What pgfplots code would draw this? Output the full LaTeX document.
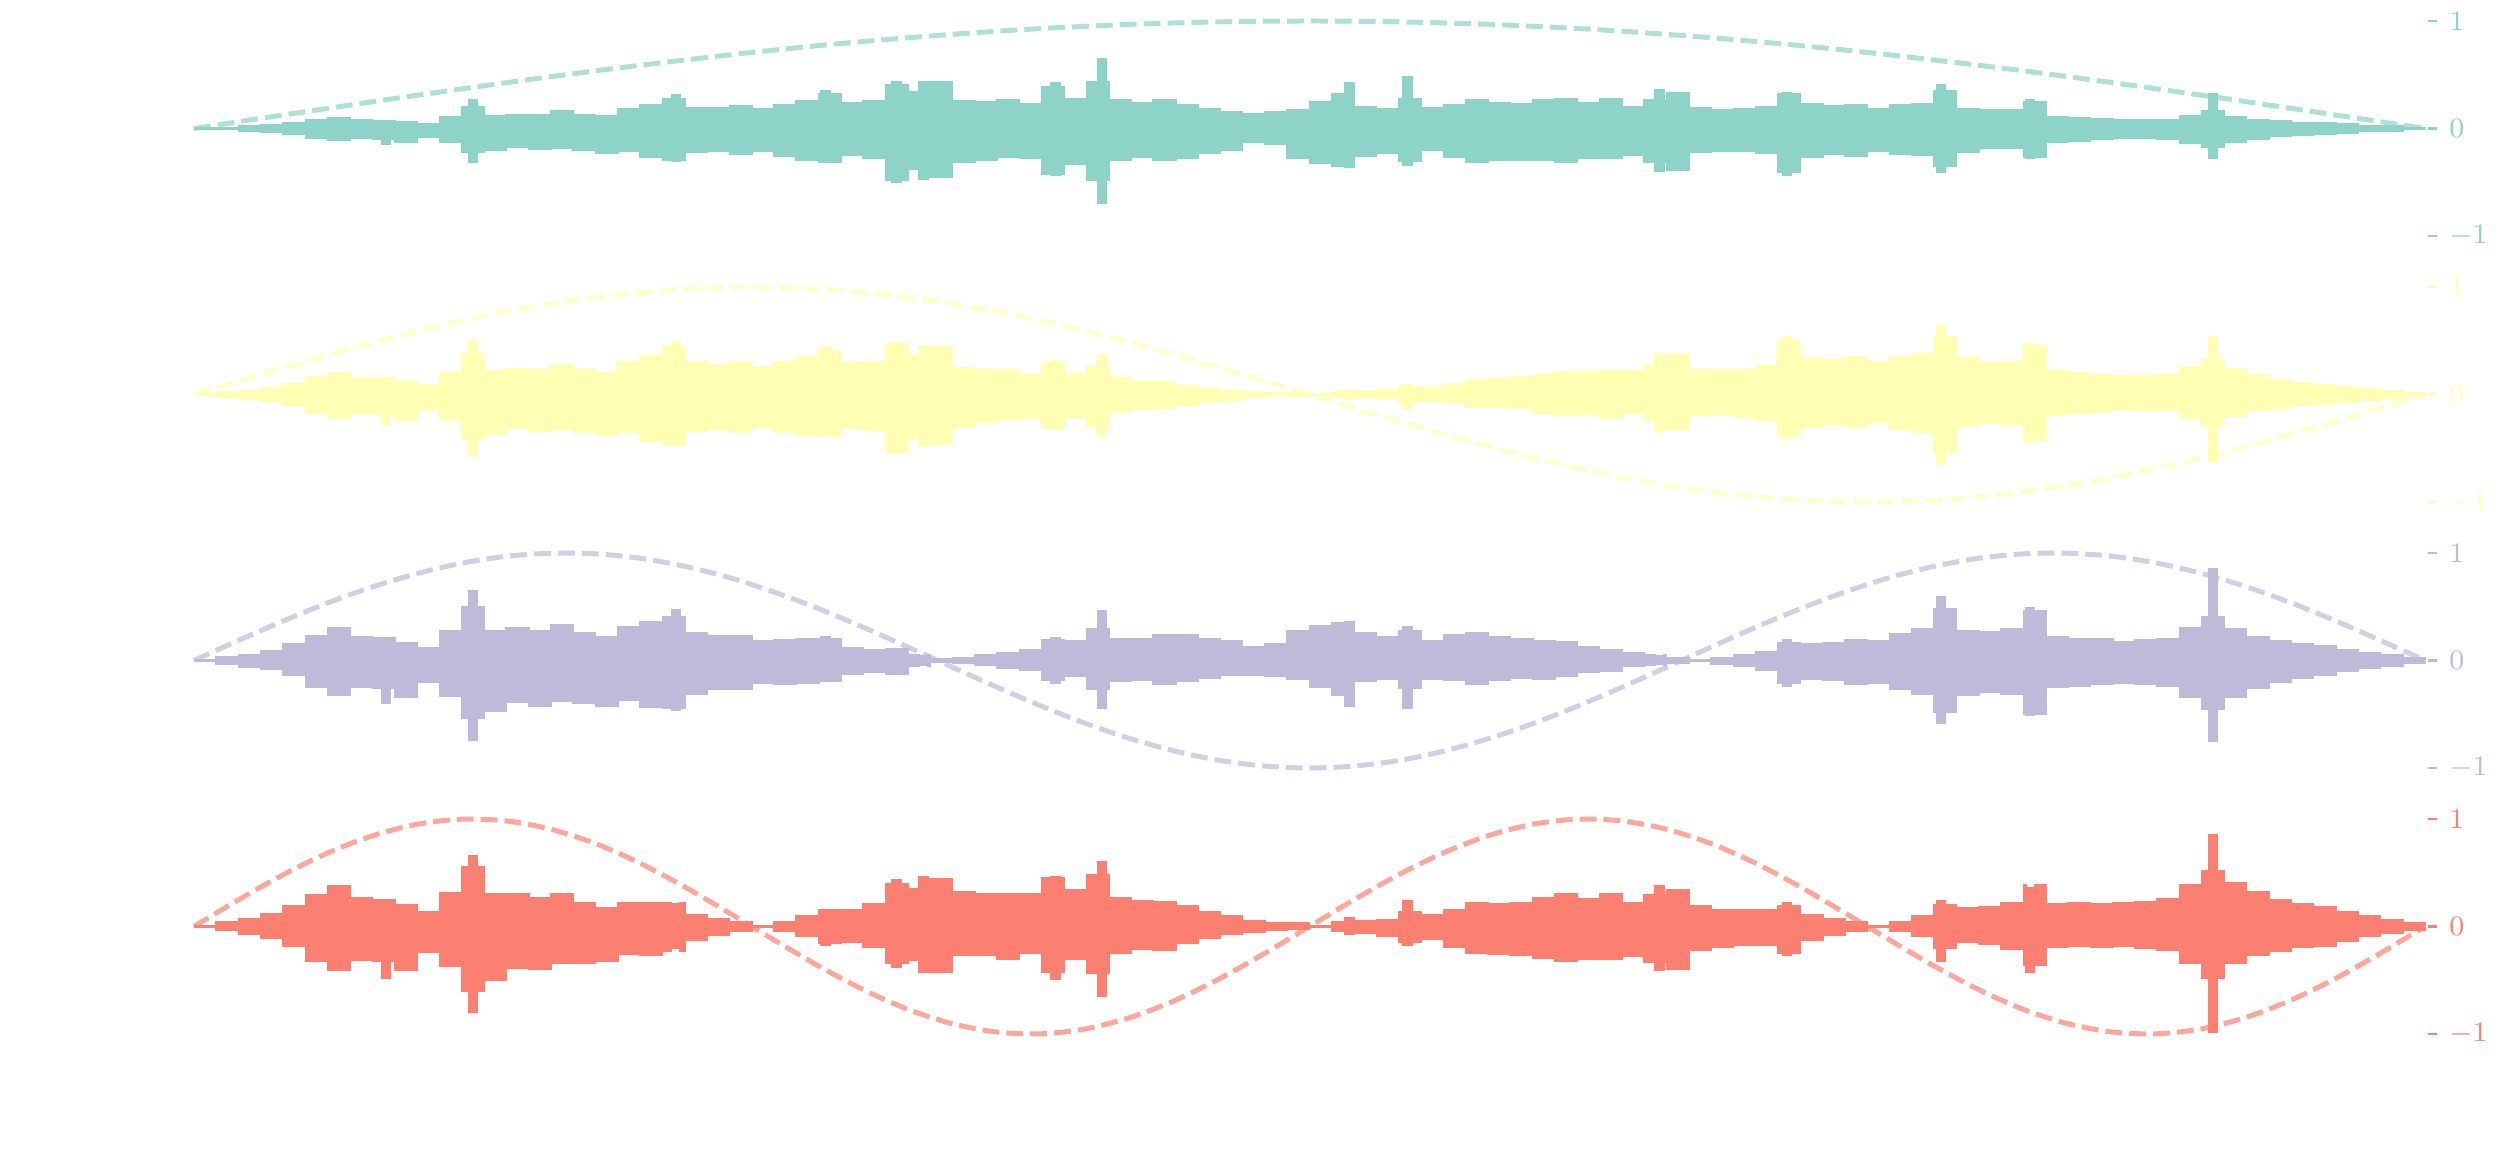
\documentclass[border=0pt]{standalone}
\usepackage{pgfplots}
\pgfplotsset{compat=1.18}
\usepackage{pgfplotstable}
\usepgfplotslibrary{fillbetween}
\definecolor{cA}{HTML}{8DD3C7}
\definecolor{cB}{HTML}{FFFFB3}
\definecolor{cC}{HTML}{BEBADA}
\definecolor{cD}{HTML}{FB8072}

\pgfplotstableread{
x u l
0 0.005 -0.005
0.01 0.01 -0.01
0.02 0.02 -0.02
0.03 0.03 -0.03
0.04 0.05 -0.05
0.05 0.08 -0.09
0.06 0.10 -0.11
0.07 0.08 -0.09
0.08 0.075 -0.095
0.084 0.075 -0.145
0.088 0.075 -0.095
0.09 0.061 -0.13
0.10 0.046 -0.077
0.11 0.11 -0.13
0.12 0.20 -0.22
0.123 0.27 -0.31
0.127 0.20 -0.22
0.13 0.12 -0.20
0.14 0.13 -0.17
0.15 0.13 -0.19
0.16 0.16 -0.18
0.17 0.13 -0.20
0.18 0.12 -0.23
0.19 0.18 -0.21
0.20 0.22 -0.27
0.21 0.28 -0.29
0.214 0.31 -0.30
0.218 0.28 -0.29
0.22 0.19 -0.22
0.23 0.19 -0.21
0.24 0.21 -0.24
0.25 0.18 -0.21
0.26 0.22 -0.26
0.27 0.26 -0.29
0.28 0.32 -0.31
0.281 0.35 -0.31
0.285 0.32 -0.31
0.29 0.24 -0.25
0.30 0.26 -0.28
0.31 0.41 -0.48
0.313 0.43 -0.50
0.317 0.41 -0.48
0.32 0.34 -0.38
0.325 0.43 -0.47
0.329 0.34 -0.38
0.33 0.43 -0.45
0.34 0.26 -0.31
0.35 0.25 -0.29
0.36 0.27 -0.27
0.37 0.23 -0.28
0.38 0.39 -0.42
0.384 0.42 -0.43
0.388 0.39 -0.42
0.39 0.28 -0.33
0.40 0.43 -0.48
0.405 0.65 -0.69
0.409 0.43 -0.48
0.41 0.27 -0.29
0.42 0.24 -0.27
0.43 0.27 -0.29
0.44 0.22 -0.28
0.45 0.18 -0.23
0.46 0.15 -0.20
0.47 0.14 -0.13
0.48 0.15 -0.15
0.49 0.17 -0.28
0.50 0.25 -0.32
0.51 0.32 -0.35
0.516 0.42 -0.36
0.52 0.20 -0.26
0.53 0.18 -0.23
0.54 0.28 -0.30
0.542 0.48 -0.34
0.546 0.28 -0.30
0.55 0.19 -0.20
0.56 0.22 -0.27
0.57 0.27 -0.31
0.58 0.24 -0.29
0.59 0.23 -0.29
0.60 0.27 -0.29
0.61 0.28 -0.31
0.62 0.24 -0.28
0.63 0.28 -0.28
0.64 0.20 -0.25
0.65 0.27 -0.31
0.655 0.36 -0.40
0.659 0.27 -0.31
0.66 0.33 -0.39
0.67 0.19 -0.22
0.68 0.17 -0.21
0.69 0.18 -0.21
0.70 0.20 -0.23
0.71 0.32 -0.41
0.712 0.33 -0.43
0.716 0.32 -0.41
0.72 0.23 -0.27
0.73 0.21 -0.24
0.74 0.22 -0.26
0.75 0.18 -0.21
0.76 0.22 -0.24
0.77 0.23 -0.25
0.78 0.35 -0.35
0.781 0.41 -0.41
0.785 0.35 -0.35
0.79 0.18 -0.22
0.80 0.17 -0.18
0.81 0.17 -0.18
0.82 0.25 -0.27
0.821 0.27 -0.28
0.825 0.25 -0.27
0.83 0.11 -0.13
0.84 0.10 -0.12
0.85 0.09 -0.10
0.86 0.08 -0.09
0.87 0.08 -0.09
0.88 0.08 -0.10
0.89 0.12 -0.14
0.90 0.16 -0.17
0.903 0.32 -0.28
0.907 0.16 -0.17
0.91 0.11 -0.13
0.92 0.08 -0.10
0.93 0.07 -0.07
0.94 0.05 -0.06
0.95 0.05 -0.05
0.96 0.04 -0.04
0.97 0.02 -0.02
0.98 0.02 -0.02
0.99 0.01 -0.01
1 0.005 -0.005
}\sigA

\pgfplotstableread{
x u l
0 0.005 -0.005
0.01 0.02 -0.02
0.02 0.035 -0.04
0.03 0.06 -0.06
0.04 0.10 -0.10
0.05 0.16 -0.17
0.06 0.20 -0.22
0.07 0.15 -0.17
0.08 0.15 -0.18
0.084 0.15 -0.28
0.088 0.15 -0.18
0.09 0.12 -0.24
0.10 0.09 -0.15
0.11 0.20 -0.24
0.12 0.38 -0.41
0.123 0.50 -0.57
0.127 0.38 -0.41
0.13 0.22 -0.37
0.14 0.24 -0.31
0.15 0.23 -0.34
0.16 0.28 -0.32
0.17 0.23 -0.35
0.18 0.20 -0.38
0.19 0.30 -0.35
0.20 0.36 -0.43
0.21 0.44 -0.47
0.214 0.49 -0.47
0.218 0.44 -0.47
0.22 0.30 -0.34
0.23 0.28 -0.32
0.24 0.30 -0.35
0.25 0.26 -0.30
0.26 0.30 -0.35
0.27 0.35 -0.38
0.28 0.41 -0.39
0.281 0.44 -0.39
0.285 0.41 -0.39
0.29 0.29 -0.31
0.30 0.30 -0.33
0.31 0.47 -0.54
0.313 0.48 -0.55
0.317 0.47 -0.54
0.32 0.36 -0.41
0.325 0.44 -0.48
0.329 0.36 -0.41
0.33 0.44 -0.46
0.34 0.25 -0.30
0.35 0.23 -0.26
0.36 0.23 -0.23
0.37 0.18 -0.22
0.38 0.29 -0.31
0.384 0.31 -0.32
0.388 0.29 -0.31
0.39 0.19 -0.22
0.40 0.27 -0.29
0.405 0.37 -0.39
0.409 0.27 -0.29
0.41 0.15 -0.16
0.42 0.12 -0.14
0.43 0.12 -0.13
0.44 0.08 -0.10
0.45 0.056 -0.071
0.46 0.037 -0.05
0.47 0.026 -0.024
0.48 0.019 -0.019
0.49 0.011 -0.018
0.50 0.005 -0.005
0.51 0.022 -0.02
0.516 0.036 -0.042
0.52 0.033 -0.025
0.53 0.043 -0.034
0.54 0.075 -0.07
0.542 0.088 -0.125
0.546 0.075 -0.07
0.55 0.062 -0.059
0.56 0.10 -0.081
0.57 0.136 -0.119
0.58 0.145 -0.12
0.59 0.16 -0.13
0.60 0.18 -0.17
0.61 0.21 -0.19
0.62 0.21 -0.18
0.63 0.22 -0.22
0.64 0.22 -0.17
0.65 0.28 -0.24
0.655 0.38 -0.34
0.659 0.28 -0.24
0.66 0.37 -0.32
0.67 0.23 -0.19
0.68 0.23 -0.18
0.69 0.23 -0.21
0.70 0.27 -0.24
0.71 0.50 -0.39
0.712 0.54 -0.41
0.716 0.50 -0.39
0.72 0.34 -0.30
0.73 0.32 -0.28
0.74 0.35 -0.30
0.75 0.30 -0.26
0.76 0.35 -0.32
0.77 0.38 -0.35
0.78 0.54 -0.54
0.781 0.64 -0.65
0.785 0.54 -0.54
0.79 0.34 -0.29
0.80 0.29 -0.27
0.81 0.30 -0.28
0.82 0.45 -0.42
0.821 0.47 -0.44
0.825 0.45 -0.42
0.83 0.22 -0.19
0.84 0.20 -0.17
0.85 0.18 -0.16
0.86 0.17 -0.14
0.87 0.17 -0.15
0.88 0.18 -0.15
0.89 0.26 -0.22
0.90 0.32 -0.29
0.903 0.54 -0.62
0.907 0.32 -0.29
0.91 0.24 -0.20
0.92 0.18 -0.15
0.93 0.14 -0.13
0.94 0.11 -0.10
0.95 0.09 -0.09
0.96 0.07 -0.07
0.97 0.05 -0.05
0.98 0.03 -0.03
0.99 0.015 -0.015
1 0.005 -0.005
}\sigB

\pgfplotstableread{
x u l
0 0.005 -0.005
0.01 0.03 -0.03
0.02 0.05 -0.06
0.03 0.09 -0.08
0.04 0.15 -0.14
0.05 0.23 -0.25
0.06 0.30 -0.32
0.07 0.22 -0.25
0.08 0.21 -0.26
0.084 0.21 -0.40
0.088 0.21 -0.26
0.09 0.165 -0.34
0.10 0.12 -0.20
0.11 0.28 -0.33
0.12 0.50 -0.54
0.123 0.65 -0.74
0.127 0.50 -0.54
0.13 0.28 -0.47
0.14 0.30 -0.39
0.15 0.28 -0.42
0.16 0.33 -0.38
0.17 0.26 -0.40
0.18 0.22 -0.42
0.19 0.31 -0.37
0.20 0.36 -0.43
0.21 0.41 -0.44
0.214 0.47 -0.46
0.218 0.41 -0.44
0.22 0.26 -0.31
0.23 0.23 -0.27
0.24 0.23 -0.27
0.25 0.18 -0.21
0.26 0.19 -0.22
0.27 0.20 -0.21
0.28 0.20 -0.19
0.281 0.22 -0.19
0.285 0.20 -0.19
0.29 0.12 -0.13
0.30 0.10 -0.11
0.31 0.11 -0.13
0.313 0.11 -0.13
0.317 0.11 -0.13
0.32 0.05 -0.056
0.325 0.04 -0.043
0.329 0.05 -0.056
0.33 0.016 -0.016
0.34 0.02 -0.02
0.35 0.05 -0.044
0.36 0.075 -0.075
0.37 0.10 -0.085
0.38 0.19 -0.18
0.384 0.21 -0.21
0.388 0.19 -0.18
0.39 0.18 -0.15
0.40 0.29 -0.27
0.405 0.46 -0.44
0.409 0.29 -0.27
0.41 0.20 -0.19
0.42 0.20 -0.18
0.43 0.24 -0.22
0.44 0.24 -0.19
0.45 0.205 -0.16
0.46 0.186 -0.14
0.47 0.125 -0.134
0.48 0.15 -0.15
0.49 0.28 -0.17
0.50 0.32 -0.25
0.51 0.35 -0.32
0.516 0.36 -0.42
0.52 0.255 -0.196
0.53 0.22 -0.173
0.54 0.28 -0.26
0.542 0.31 -0.44
0.546 0.28 -0.26
0.55 0.178 -0.17
0.56 0.236 -0.186
0.57 0.253 -0.221
0.58 0.219 -0.182
0.59 0.20 -0.16
0.60 0.18 -0.17
0.61 0.17 -0.15
0.62 0.13 -0.11
0.63 0.10 -0.10
0.64 0.07 -0.055
0.65 0.055 -0.047
0.655 0.041 -0.037
0.659 0.055 -0.047
0.66 0.028 -0.024
0.67 0.008 -0.008
0.68 0.025 -0.03
0.69 0.05 -0.055
0.70 0.08 -0.09
0.71 0.16 -0.21
0.712 0.19 -0.24
0.716 0.16 -0.21
0.72 0.15 -0.17
0.73 0.16 -0.18
0.74 0.19 -0.22
0.75 0.18 -0.21
0.76 0.25 -0.27
0.77 0.29 -0.31
0.78 0.48 -0.48
0.781 0.59 -0.58
0.785 0.48 -0.48
0.79 0.28 -0.32
0.80 0.27 -0.29
0.81 0.29 -0.31
0.82 0.46 -0.50
0.821 0.49 -0.51
0.825 0.46 -0.50
0.83 0.22 -0.25
0.84 0.20 -0.24
0.85 0.20 -0.22
0.86 0.17 -0.21
0.87 0.19 -0.22
0.88 0.20 -0.24
0.89 0.30 -0.34
0.90 0.41 -0.45
0.903 0.85 -0.75
0.907 0.41 -0.45
0.91 0.29 -0.34
0.92 0.22 -0.26
0.93 0.18 -0.20
0.94 0.15 -0.16
0.95 0.14 -0.14
0.96 0.10 -0.10
0.97 0.07 -0.07
0.98 0.05 -0.05
0.99 0.02 -0.02
1 0.005 -0.005
}\sigC

\pgfplotstableread{
x u l
0 0.005 -0.005
0.01 0.04 -0.035
0.02 0.07 -0.075
0.03 0.12 -0.11
0.04 0.19 -0.18
0.05 0.29 -0.32
0.06 0.38 -0.41
0.07 0.27 -0.31
0.08 0.25 -0.32
0.084 0.25 -0.48
0.088 0.25 -0.32
0.09 0.20 -0.41
0.10 0.14 -0.24
0.11 0.31 -0.37
0.12 0.55 -0.60
0.123 0.66 -0.80
0.127 0.55 -0.60
0.13 0.30 -0.50
0.14 0.30 -0.39
0.15 0.27 -0.40
0.16 0.30 -0.34
0.17 0.22 -0.34
0.18 0.17 -0.32
0.19 0.22 -0.26
0.20 0.22 -0.27
0.21 0.22 -0.23
0.214 0.21 -0.20
0.218 0.22 -0.23
0.22 0.11 -0.13
0.23 0.07 -0.08
0.24 0.04 -0.045
0.25 0.005 -0.005
0.26 0.045 -0.04
0.27 0.095 -0.09
0.28 0.15 -0.155
0.281 0.15 -0.17
0.285 0.15 -0.155
0.29 0.15 -0.145
0.30 0.21 -0.19
0.31 0.40 -0.34
0.313 0.43 -0.38
0.317 0.40 -0.34
0.32 0.35 -0.31
0.325 0.46 -0.42
0.329 0.35 -0.31
0.33 0.44 -0.42
0.34 0.32 -0.27
0.35 0.30 -0.27
0.36 0.30 -0.30
0.37 0.30 -0.25
0.38 0.45 -0.42
0.384 0.46 -0.49
0.388 0.45 -0.42
0.39 0.34 -0.30
0.40 0.48 -0.43
0.405 0.60 -0.65
0.409 0.48 -0.43
0.41 0.27 -0.25
0.42 0.24 -0.21
0.43 0.23 -0.22
0.44 0.19 -0.15
0.45 0.135 -0.106
0.46 0.096 -0.072
0.47 0.048 -0.052
0.48 0.037 -0.037
0.49 0.035 -0.021
0.50 0.005 -0.005
0.51 0.04 -0.044
0.516 0.084 -0.072
0.52 0.05 -0.065
0.53 0.066 -0.085
0.54 0.135 -0.145
0.542 0.24 -0.17
0.546 0.135 -0.145
0.55 0.112 -0.118
0.56 0.15 -0.19
0.57 0.216 -0.247
0.58 0.21 -0.253
0.59 0.22 -0.27
0.60 0.27 -0.29
0.61 0.30 -0.32
0.62 0.26 -0.30
0.63 0.30 -0.30
0.64 0.22 -0.28
0.65 0.29 -0.33
0.655 0.38 -0.41
0.659 0.29 -0.33
0.66 0.34 -0.40
0.67 0.19 -0.22
0.68 0.15 -0.19
0.69 0.15 -0.17
0.70 0.15 -0.17
0.71 0.19 -0.25
0.712 0.22 -0.27
0.716 0.19 -0.25
0.72 0.11 -0.13
0.73 0.07 -0.08
0.74 0.04 -0.045
0.75 0.005 -0.005
0.76 0.045 -0.04
0.77 0.095 -0.09
0.78 0.20 -0.20
0.781 0.24 -0.32
0.785 0.20 -0.20
0.79 0.17 -0.145
0.80 0.18 -0.165
0.81 0.22 -0.21
0.82 0.39 -0.36
0.821 0.36 -0.42
0.825 0.39 -0.36
0.83 0.21 -0.19
0.84 0.22 -0.18
0.85 0.21 -0.19
0.86 0.22 -0.18
0.87 0.23 -0.20
0.88 0.26 -0.22
0.89 0.39 -0.34
0.90 0.52 -0.48
0.903 0.85 -0.98
0.907 0.52 -0.48
0.91 0.41 -0.34
0.92 0.32 -0.27
0.93 0.25 -0.23
0.94 0.21 -0.19
0.95 0.18 -0.18
0.96 0.135 -0.135
0.97 0.095 -0.09
0.98 0.06 -0.06
0.99 0.03 -0.03
1 0.005 -0.005
}\sigD

\pgfplotstableread{
x y
0 0
0.02 0.063
0.04 0.125
0.06 0.187
0.08 0.249
0.10 0.309
0.12 0.368
0.14 0.426
0.16 0.482
0.18 0.536
0.20 0.588
0.22 0.637
0.24 0.685
0.26 0.729
0.28 0.771
0.30 0.809
0.32 0.844
0.34 0.876
0.36 0.905
0.38 0.930
0.40 0.951
0.42 0.969
0.44 0.982
0.46 0.992
0.48 0.998
0.50 1
0.52 0.998
0.54 0.992
0.56 0.982
0.58 0.969
0.60 0.951
0.62 0.930
0.64 0.905
0.66 0.876
0.68 0.844
0.70 0.809
0.72 0.771
0.74 0.729
0.76 0.685
0.78 0.637
0.80 0.588
0.82 0.536
0.84 0.482
0.86 0.426
0.88 0.368
0.90 0.309
0.92 0.249
0.94 0.187
0.96 0.125
0.98 0.063
1 0
}\sinA

\pgfplotstableread{
x y
0 0
0.02 0.125
0.04 0.249
0.06 0.368
0.08 0.482
0.10 0.588
0.12 0.685
0.14 0.771
0.16 0.844
0.18 0.905
0.20 0.951
0.22 0.982
0.24 0.998
0.26 0.998
0.28 0.982
0.30 0.951
0.32 0.905
0.34 0.844
0.36 0.771
0.38 0.685
0.40 0.588
0.42 0.482
0.44 0.368
0.46 0.249
0.48 0.125
0.50 0
0.52 -0.125
0.54 -0.249
0.56 -0.368
0.58 -0.482
0.60 -0.588
0.62 -0.685
0.64 -0.771
0.66 -0.844
0.68 -0.905
0.70 -0.951
0.72 -0.982
0.74 -0.998
0.76 -0.998
0.78 -0.982
0.80 -0.951
0.82 -0.905
0.84 -0.844
0.86 -0.771
0.88 -0.685
0.90 -0.588
0.92 -0.482
0.94 -0.368
0.96 -0.249
0.98 -0.125
1 0
}\sinB

\pgfplotstableread{
x y
0 0
0.02 0.187
0.04 0.368
0.06 0.536
0.08 0.685
0.10 0.809
0.12 0.905
0.14 0.969
0.16 0.998
0.18 0.992
0.20 0.951
0.22 0.876
0.24 0.771
0.26 0.637
0.28 0.482
0.30 0.309
0.32 0.125
0.34 -0.063
0.36 -0.249
0.38 -0.426
0.40 -0.588
0.42 -0.729
0.44 -0.844
0.46 -0.930
0.48 -0.982
0.50 -1
0.52 -0.982
0.54 -0.930
0.56 -0.844
0.58 -0.729
0.60 -0.588
0.62 -0.426
0.64 -0.249
0.66 -0.063
0.68 0.125
0.70 0.309
0.72 0.482
0.74 0.637
0.76 0.771
0.78 0.876
0.80 0.951
0.82 0.992
0.84 0.998
0.86 0.969
0.88 0.905
0.90 0.809
0.92 0.685
0.94 0.536
0.96 0.368
0.98 0.187
1 0
}\sinC

\pgfplotstableread{
x y
0 0
0.02 0.249
0.04 0.482
0.06 0.685
0.08 0.844
0.10 0.951
0.12 0.998
0.14 0.982
0.16 0.905
0.18 0.771
0.20 0.588
0.22 0.368
0.24 0.125
0.26 -0.125
0.28 -0.368
0.30 -0.588
0.32 -0.771
0.34 -0.905
0.36 -0.982
0.38 -0.998
0.40 -0.951
0.42 -0.844
0.44 -0.685
0.46 -0.482
0.48 -0.249
0.50 0
0.52 0.249
0.54 0.482
0.56 0.685
0.58 0.844
0.60 0.951
0.62 0.998
0.64 0.982
0.66 0.905
0.68 0.771
0.70 0.588
0.72 0.368
0.74 0.125
0.76 -0.125
0.78 -0.368
0.80 -0.588
0.82 -0.771
0.84 -0.905
0.86 -0.982
0.88 -0.998
0.90 -0.951
0.92 -0.844
0.94 -0.685
0.96 -0.482
0.98 -0.249
1 0
}\sinD

\pgfplotsset{
  panel/.style={
    scale only axis, width=22.37cm, height=2.15cm, anchor=south west,
    xmin=-0.00134, xmax=1.00134, ymin=-1, ymax=1,
    clip=false,
    axis x line=none,
    axis y line*=right,
    y axis line style={draw=none},
    ytick={-1,0,1},
    tick align=outside,
    major tick length=0.09cm,
    tick style={line width=0.8pt},
    yticklabel style={font=\fontsize{8.2}{10}\selectfont},
  },
  sig/.style={const plot, line width=0.5pt, #1},
  dashline/.style={smooth, line width=1.42pt, dash pattern=on 4.8pt off 2.0pt, draw opacity=0.7, #1},
}

\begin{document}
\begin{tikzpicture}

\begin{axis}[panel, at={(1.91cm,9.36cm)}, ytick style={color=cA}, yticklabel style={text=cA}]
\addplot[sig=cA, name path=uA] table[x=x,y=u]{\sigA};
\addplot[sig=cA, name path=lA] table[x=x,y=l]{\sigA};
\addplot[fill=cA, draw=none] fill between[of=uA and lA];
\addplot[dashline=cA] table[x=x,y=y]{\sinA};
\end{axis}

\begin{axis}[panel, at={(1.91cm,6.70cm)}, ytick style={color=cB}, yticklabel style={text=cB}]
\addplot[sig=cB, name path=uB] table[x=x,y=u]{\sigB};
\addplot[sig=cB, name path=lB] table[x=x,y=l]{\sigB};
\addplot[fill=cB, draw=none] fill between[of=uB and lB];
\addplot[dashline=cB] table[x=x,y=y]{\sinB};
\end{axis}

\begin{axis}[panel, at={(1.91cm,4.04cm)}, ytick style={color=cC}, yticklabel style={text=cC}]
\addplot[sig=cC, name path=uC] table[x=x,y=u]{\sigC};
\addplot[sig=cC, name path=lC] table[x=x,y=l]{\sigC};
\addplot[fill=cC, draw=none] fill between[of=uC and lC];
\addplot[dashline=cC] table[x=x,y=y]{\sinC};
\end{axis}

\begin{axis}[panel, at={(1.91cm,1.38cm)}, ytick style={color=cD}, yticklabel style={text=cD}]
\addplot[sig=cD, name path=uD] table[x=x,y=u]{\sigD};
\addplot[sig=cD, name path=lD] table[x=x,y=l]{\sigD};
\addplot[fill=cD, draw=none] fill between[of=uD and lD];
\addplot[dashline=cD] table[x=x,y=y]{\sinD};
\end{axis}

\path (0,0) rectangle (25cm,11.72cm);
\end{tikzpicture}
\end{document}
